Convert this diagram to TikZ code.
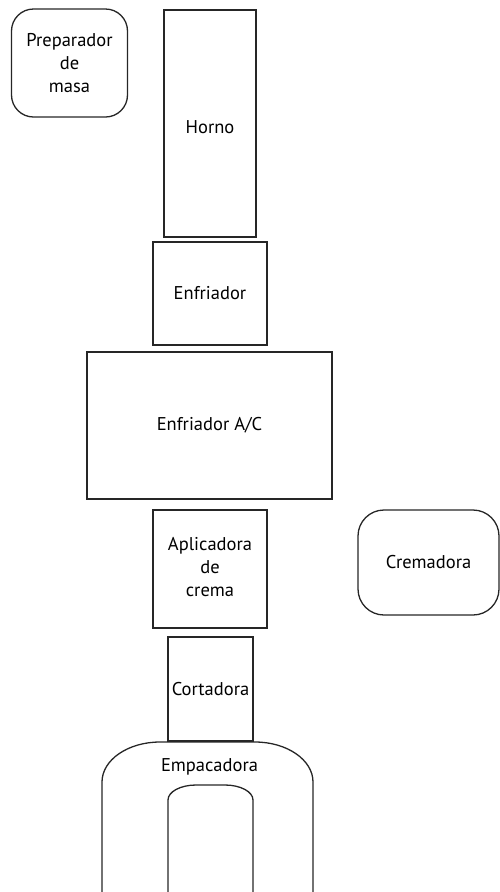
\documentclass[tikz,border=0pt]{standalone}
\usepackage{fontspec}
\setmainfont{PT Sans}
\begin{document}
\begin{tikzpicture}[x=1pt,y=-1pt,
  line width=1.3pt,
  every node/.style={font=\fontsize{18.5}{23}\selectfont, text=black, align=center, inner sep=0pt},
  machine/.style={draw=black!85, rectangle},
  roundmachine/.style={draw=black!85, rectangle, rounded corners=22pt}]
\useasboundingbox (0,0) rectangle (500,892);

% Stations along the line
\node[roundmachine, minimum width=116pt, minimum height=108pt] (prep) at (69.5,63) {Preparador\\de\\masa};
\node[machine, minimum width=92pt, minimum height=227pt] (horno) at (210,123.5) {};
\node (hornotxt) at (210,127) {Horno};
\node[machine, minimum width=114pt, minimum height=103pt] (enfr) at (210,293.5) {Enfriador};
\node[machine, minimum width=245pt, minimum height=147pt] (enfrac) at (209.5,425.5) {Enfriador A/C};
\node[machine, minimum width=114pt, minimum height=118pt] (aplic) at (210,569) {};
\node (aplictxt) at (210,567) {Aplicadora\\de\\crema};
\node[roundmachine, rounded corners=26pt, minimum width=141pt, minimum height=105pt] (crem) at (428.5,562.5) {Cremadora};
\node[machine, minimum width=85pt, minimum height=104pt] (cort) at (210.5,689) {Cortadora};

% Packing machine: arched frame open at the bottom
\draw[draw=black!85]
  (102,892) -- (102,782)
  arc[start angle=180, end angle=270, x radius=58, y radius=40] -- (255,742)
  arc[start angle=270, end angle=360, x radius=58, y radius=40] -- (313,892);
\draw[draw=black!85]
  (168,892) -- (168,800)
  arc[start angle=180, end angle=270, x radius=28, y radius=15] -- (225,785)
  arc[start angle=270, end angle=360, x radius=28, y radius=15] -- (253,892);
\node (empac) at (209.5,767) {Empacadora};
\end{tikzpicture}
\end{document}
